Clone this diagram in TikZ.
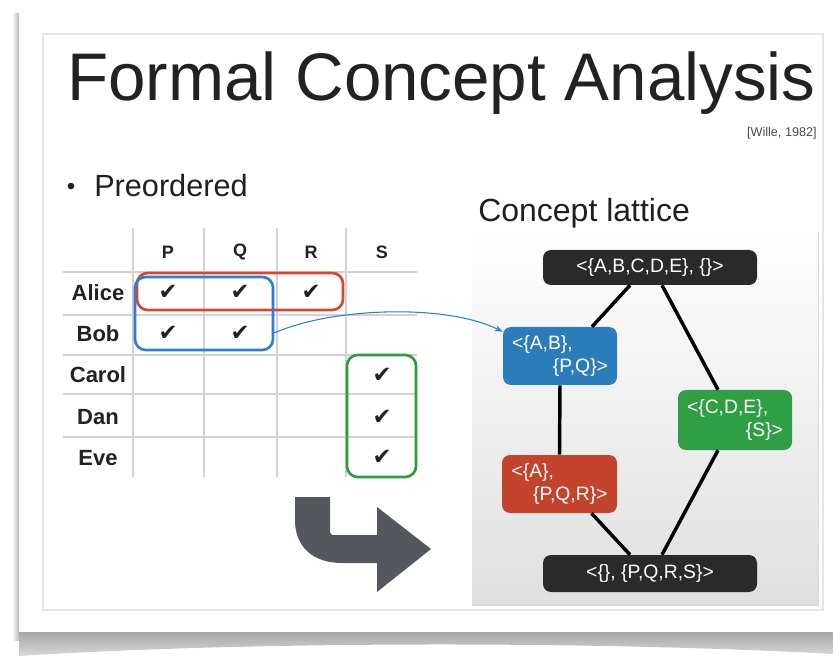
\documentclass[tikz,border=0pt]{standalone}
\usepackage{fontspec}
\setmainfont{Liberation Sans}
\newfontfamily\symf{DejaVu Sans}
\usetikzlibrary{arrows.meta,calc}
\definecolor{latdark}{HTML}{2A2A2A}
\definecolor{latblue}{HTML}{2A7DB8}
\definecolor{latgreen}{HTML}{2F9E44}
\definecolor{latred}{HTML}{C4432C}
\definecolor{hlred}{HTML}{D9452E}
\definecolor{hlblue}{HTML}{2F7FD0}
\definecolor{hlgreen}{HTML}{2E9E3A}
\definecolor{arrowgrey}{HTML}{54585E}
\definecolor{txt}{HTML}{222222}
\tikzset{
  latnode/.style={rounded corners=6, text=white, inner sep=0pt,
    font=\fontsize{14.5}{17.5}\selectfont},
  twoline/.style={latnode, align=left, text width=#1},
  hlbox/.style={draw, line width=2pt, rounded corners=8, inner sep=0pt},
  lattedge/.style={line width=2.6pt, black},
  gridline/.style={gray!35, line width=0.8pt},
  rowlab/.style={font=\fontsize{16.5}{19}\selectfont\bfseries, text=txt},
  collab/.style={font=\fontsize{13.5}{16}\selectfont\bfseries, text=txt},
  tick/.style={font=\symf\fontsize{17}{19}\selectfont, text=txt}
}
\begin{document}
\begin{tikzpicture}[x=0.75pt,y=-0.75pt]
\useasboundingbox (0,0) rectangle (833,656);
\fill[white] (0,0) rectangle (833,656);
% card shadows
\shade[left color=white, right color=gray!55] (12,14) rectangle (19,640);
\shade[top color=gray!70, bottom color=gray!30] (19,632) -- (833,632) -- (833,654) .. controls (600,641) and (250,641) .. (19,656) -- cycle;
\fill[white] (19,12) rectangle (833,632);
% slide frame
\draw[gray!20, line width=0.8pt] (43,34) rectangle (823,610);
% title
\node[anchor=base west, inner sep=0, font=\fontsize{50.5}{60}\selectfont, text=txt] (title) at (67,101) {Formal Concept Analysis};
\node[anchor=base east, inner sep=0, font=\fontsize{9.5}{11}\selectfont, text=gray!60!black] (cite) at (817,137) {[Wille, 1982]};
\node[inner sep=0, font=\fontsize{18}{20}\selectfont, text=gray!25!black] (bullet) at (71,189) {\textbullet};
\node[anchor=base west, inner sep=0, font=\fontsize{23}{27}\selectfont, text=gray!25!black] (pre) at (94,197) {Preordered};
\node[anchor=base west, inner sep=0, font=\fontsize{24}{28}\selectfont, text=gray!25!black] (cl) at (478,222) {Concept lattice};
% table grid
\foreach \x in {133,204,277,346} \draw[gridline] (\x,228) -- (\x,477);
\foreach \y in {272,315,355,394,437} \draw[gridline] (63,\y) -- (417,\y);
\node[collab] (hP) at (168,252) {P};
\node[collab] (hQ) at (240,252) {Q};
\node[collab] (hR) at (311,252) {R};
\node[collab] (hS) at (382,252) {S};
\node[rowlab] (rA) at (98,293) {Alice};
\node[rowlab] (rB) at (98,334) {Bob};
\node[rowlab] (rC) at (98,375) {Carol};
\node[rowlab] (rD) at (98,417) {Dan};
\node[rowlab] (rE) at (98,458) {Eve};
\node[tick] (t1) at (168,292) {✔};
\node[tick] (t2) at (240,292) {✔};
\node[tick] (t3) at (311,292) {✔};
\node[tick] (t4) at (168,333) {✔};
\node[tick] (t5) at (240,333) {✔};
\node[tick] (t6) at (382,375) {✔};
\node[tick] (t7) at (382,417) {✔};
\node[tick] (t8) at (382,457) {✔};
% highlight boxes
\node[hlbox, hlred, minimum width=154.5pt, minimum height=27.75pt] (redbox) at (240,291.5) {};
\node[hlbox, hlblue, minimum width=103.5pt, minimum height=54.75pt] (bluebox) at (204,313.5) {};
\node[hlbox, hlgreen, minimum width=51.75pt, minimum height=91.5pt] (greenbox) at (381.5,416) {};
% lattice panel
\shade[top color=white, bottom color=gray!25] (472,232) rectangle (818,605);
\draw[gray!30, line width=0.6pt] (818,232) -- (818,605) -- (472,605);
% lattice nodes
\node[latnode, fill=latdark, minimum width=160.5pt, minimum height=26.25pt] (top) at (650,267.5) {<\{A,B,C,D,E\}, \{\}>};
\node[twoline=72pt, fill=latblue, minimum width=85.5pt, minimum height=43.5pt] (nAB) at (560,356) {<\{A,B\},\\\hspace*{\fill}\{P,Q\}>};
\node[twoline=72pt, fill=latgreen, minimum width=85.5pt, minimum height=45pt] (nCDE) at (735,420) {<\{C,D,E\},\\\hspace*{\fill}\{S\}>};
\node[twoline=72pt, fill=latred, minimum width=86.25pt, minimum height=43.5pt] (nA) at (559.5,484) {<\{A\},\\\hspace*{\fill}\{P,Q,R\}>};
\node[latnode, fill=latdark, minimum width=160.5pt, minimum height=27.75pt] (bot) at (650,573.5) {<\{\}, \{P,Q,R,S\}>};
% lattice edges
\draw[lattedge] ($(top.south)+(-20,0)$) -- ($(nAB.north)+(32,0)$);
\draw[lattedge] ($(top.south)+(12,0)$) -- ($(nCDE.north)+(-17,0)$);
\draw[lattedge] (nAB.south) -- (nA.north);
\draw[lattedge] ($(nCDE.south)+(-17,0)$) -- ($(bot.north)+(12,0)$);
\draw[lattedge] ($(nA.south)+(32,0)$) -- ($(bot.north)+(-20,0)$);
% blue connector
\draw[hlblue, line width=0.8pt, -{Stealth[length=6pt,width=4.5pt]}] ($(bluebox.east)+(0,19.5)$) .. controls (330,308) and (445,303) .. ($(nAB.north west)+(0,5)$);
% big arrow
\fill[arrowgrey] (295,497) -- (330,497) -- (330,530) .. controls (330,534) and (331,535) .. (335,535) -- (377,535) -- (377,507) -- (431,549) -- (377,592) -- (377,563) -- (342,563) .. controls (312,563) and (295,546) .. (295,520) -- cycle;
\end{tikzpicture}
\end{document}
